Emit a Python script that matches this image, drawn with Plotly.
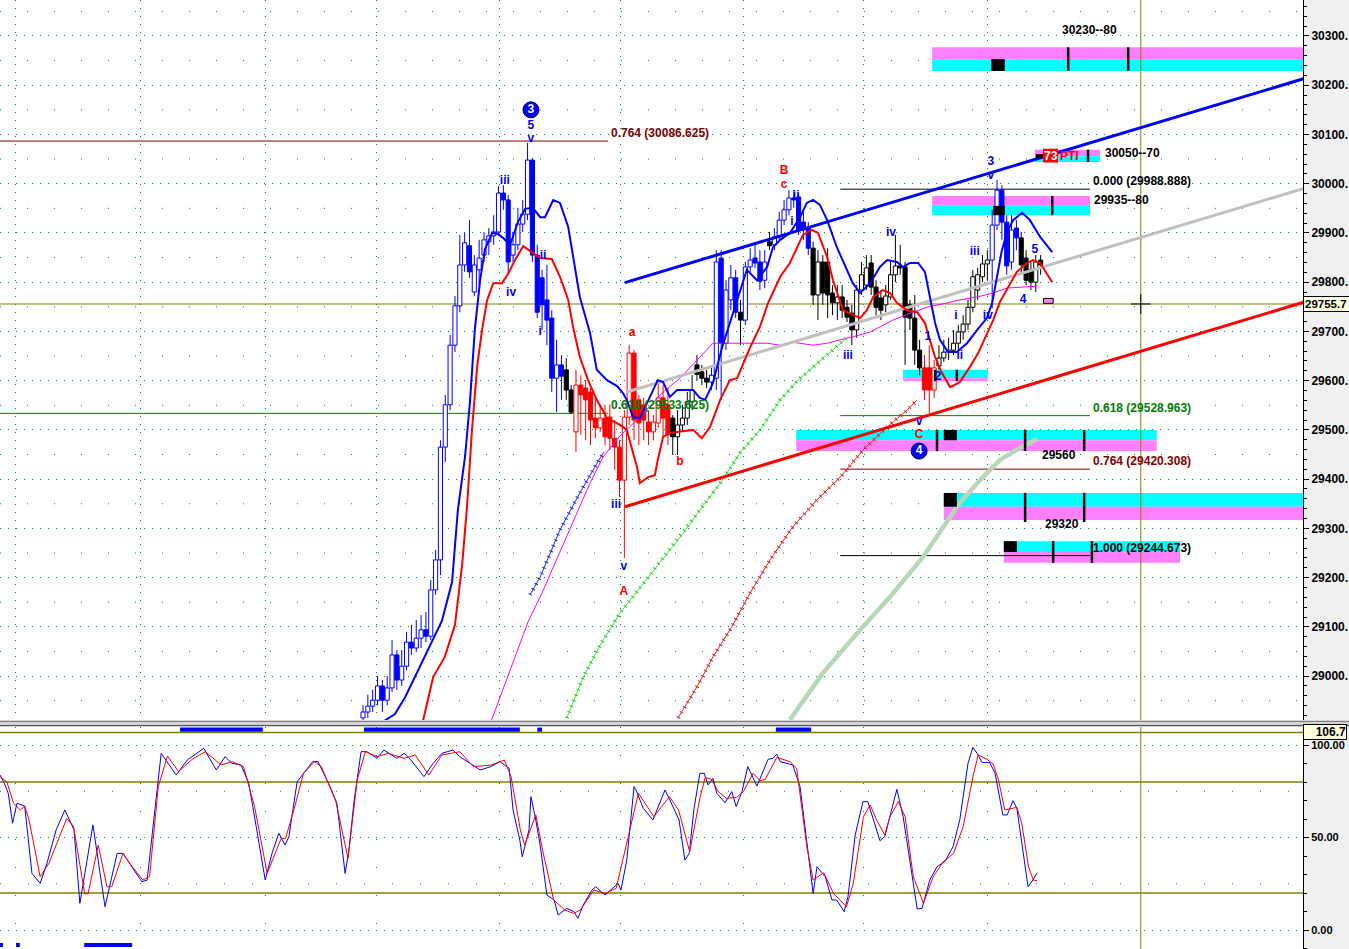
import plotly.graph_objects as go

FONT = "Liberation Sans"
BLUE, RED, BLACK = "#0000ff", "#ff0000", "#000000"
GRID = "#008080"
OLIVE = "#808000"

# ---------------- candles (bar index from first_bar) ----------------
first_bar = 75
c_group_runs = [("b", 42), ("k", 2), ("r", 20), ("k", 8), ("b", 6), ("k", 1), ("b", 5),
                ("k", 1), ("b", 8), ("k", 23), ("r", 3), ("k", 11), ("b", 6), ("k", 5)]
c_open = [28915, 28927, 28939, 28951, 28980, 28951, 28976, 29043, 28992, 29020,
          29069, 29057, 29077, 29094, 29081, 29175, 29236, 29465, 29551, 29672,
          29752, 29835, 29874, 29780, 29825, 29855, 29882, 29894, 29902, 29981,
          29967, 29855, 29876, 29918, 29938, 30048, 29855, 29809, 29764, 29727,
          29605, 29632,
          29622, 29581,
          29496, 29591, 29585, 29577, 29524, 29504, 29524, 29526, 29483, 29465,
          29398, 29526, 29656, 29561, 29551, 29516, 29496, 29514, 29565, 29551,
          29524, 29486, 29510, 29524, 29557, 29632, 29618, 29605,
          29597, 29605, 29849, 29676, 29764, 29809,
          29739,
          29723, 29831, 29849, 29841, 29804,
          29882,
          29876, 29892, 29926, 29947, 29971, 29973, 29922, 29910,
          29869, 29774, 29841, 29841, 29778, 29758, 29770, 29749, 29737, 29703,
          29784, 29794, 29839, 29790, 29768, 29754, 29770, 29815, 29833, 29831,
          29754, 29727, 29662,
          29626, 29626, 29581,
          29630, 29646, 29658, 29662, 29676, 29699, 29715, 29749, 29784, 29811, 29837,
          29845, 29916, 29987, 29922, 29841, 29910,
          29890, 29849, 29825, 29800, 29845]
c_high = [28941, 28962, 28972, 29000, 28992, 29000, 29073, 29053, 29053, 29090,
          29104, 29114, 29124, 29130, 29195, 29256, 29479, 29571, 29693, 29772,
          29896, 29900, 29926, 29855, 29886, 29902, 29910, 29936, 29995, 29997,
          29977, 29902, 29951, 29967, 30083, 30052, 29876, 29825, 29835, 29743,
          29683, 29652,
          29646, 29591,
          29622, 29611, 29601, 29585, 29571, 29551, 29551, 29551, 29520, 29479,
          29540, 29672, 29662, 29571, 29565, 29540, 29530, 29601, 29591, 29585,
          29530, 29540, 29551, 29577, 29611, 29652, 29632, 29622,
          29626, 29865, 29865, 29804, 29835, 29825,
          29764,
          29841, 29869, 29876, 29865, 29865,
          29902,
          29910, 29943, 29967, 29987, 29987, 29981, 29943, 29922,
          29882, 29865, 29855, 29869, 29794, 29794, 29794, 29764, 29754, 29794,
          29841, 29855, 29855, 29804, 29784, 29794, 29845, 29896, 29876, 29841,
          29764, 29774, 29683,
          29652, 29672, 29642,
          29672, 29683, 29687, 29703, 29713, 29733, 29764, 29825, 29829, 29855, 29865,
          29947, 30008, 29997, 29936, 29936, 29926,
          29902, 29865, 29845, 29855, 29855]
c_low = [28907, 28915, 28927, 28941, 28927, 28941, 28968, 28972, 28980, 29012,
         29043, 29049, 29057, 29069, 29073, 29165, 29205, 29435, 29540, 29658,
         29739, 29821, 29809, 29772, 29794, 29841, 29855, 29876, 29894, 29947,
         29815, 29841, 29865, 29902, 29926, 29841, 29727, 29703, 29672, 29577,
         29536, 29561,
         29561, 29532,
         29455, 29490, 29479, 29469, 29483, 29496, 29469, 29459, 29419, 29364,
         29240, 29510, 29479, 29469, 29479, 29469, 29479, 29504, 29486, 29469,
         29449, 29449, 29496, 29510, 29540, 29601, 29591, 29585,
         29581, 29581, 29561, 29662, 29743, 29727,
         29672,
         29713, 29821, 29829, 29784, 29788,
         29865,
         29865, 29886, 29916, 29936, 29951, 29896, 29886, 29855,
         29754, 29723, 29754, 29727, 29733, 29723, 29727, 29719, 29672, 29687,
         29774, 29784, 29774, 29733, 29723, 29739, 29764, 29800, 29815, 29632,
         29703, 29632, 29611,
         29561, 29534, 29565,
         29622, 29638, 29642, 29652, 29662, 29683, 29703, 29739, 29764, 29800, 29804,
         29747, 29906, 29886, 29815, 29825, 29865,
         29815, 29794, 29784, 29780, 29815]
c_close = [28927, 28939, 28951, 28980, 28951, 28976, 29043, 28992, 29020, 29069,
           29057, 29077, 29094, 29081, 29175, 29236, 29465, 29551, 29672, 29752,
           29835, 29880, 29821, 29835, 29849, 29886, 29894, 29902, 29981, 29967,
           29841, 29876, 29918, 29938, 30048, 29855, 29739, 29754, 29723, 29605,
           29632, 29609,
           29581, 29536,
           29591, 29571, 29561, 29520, 29504, 29524, 29486, 29483, 29465, 29398,
           29526, 29656, 29520, 29514, 29520, 29496, 29516, 29565, 29524, 29490,
           29486, 29510, 29524, 29557, 29581, 29613, 29605, 29597,
           29611, 29841, 29676, 29784, 29809, 29739,
           29723,
           29831, 29845, 29839, 29802, 29841,
           29874,
           29892, 29926, 29947, 29971, 29967, 29906, 29910, 29869,
           29774, 29841, 29778, 29774, 29758, 29770, 29743, 29729, 29703, 29784,
           29815, 29829, 29790, 29749, 29743, 29772, 29815, 29833, 29829, 29729,
           29727, 29662, 29626,
           29581, 29581, 29626,
           29646, 29658, 29662, 29676, 29699, 29715, 29749, 29811, 29815, 29837, 29845,
           29916, 29987, 29922, 29833, 29906, 29890,
           29835, 29804, 29800, 29841, 29835]

# ---------------- overlay lines (bar index, price) ----------------
ma_blue_x = [76.4, 81.6, 83.7, 87.8, 91.3, 93.4, 94.6, 96.1, 97.1, 98.1, 99.2, 100.2, 101.7, 102.9, 103.9,
             105.4, 107.0, 108.5, 110.1, 111.6, 112.6, 114.3, 115.7, 117.4, 118.4, 119.8, 121.9, 123.3,
             125.4, 127.5, 128.7, 129.5, 130.8, 132.2, 133.7, 135.9, 137.0, 138.4, 139.9, 143.2, 144.6,
             145.7, 147.3, 149.2, 150.8, 152.5, 154.3, 156.4, 158.5, 159.7, 161.2, 163.2, 165.3, 166.7,
             168.0, 169.4, 170.9, 172.9, 175.0, 176.2, 177.7, 179.8, 181.8, 183.3, 185.3, 186.6, 188.0,
             189.7, 191.1, 192.1, 193.2, 194.2, 195.9, 197.7, 199.8, 201.9, 203.9, 205.0, 206.0, 207.0,
             208.1, 209.3, 211.2, 212.8, 214.9, 217.4]
ma_blue_y = [28890, 28923, 28957, 29039, 29112, 29191, 29337, 29447, 29557, 29703, 29804, 29867, 29900,
             29898, 29890, 29876, 29922, 29949, 29951, 29932, 29932, 29967, 29961, 29912, 29851, 29770,
             29697, 29622, 29601, 29589, 29575, 29561, 29526, 29524, 29555, 29601, 29597, 29567, 29581,
             29581, 29565, 29561, 29595, 29668, 29717, 29770, 29825, 29804, 29831, 29871, 29886, 29900,
             29932, 29961, 29967, 29957, 29926, 29871, 29825, 29798, 29778, 29798, 29831, 29845, 29841,
             29831, 29839, 29839, 29821, 29770, 29717, 29683, 29658, 29658, 29676, 29703, 29727, 29758,
             29811, 29865, 29902, 29926, 29941, 29926, 29892, 29861]
ma_red_x = [87.2, 89.5, 91.9, 94.0, 95.5, 96.5, 97.5, 98.6, 99.6, 100.6, 101.9, 103.7, 105.0, 106.4, 108.1,
            109.5, 111.6, 114.0, 115.7, 117.4, 118.4, 119.8, 121.5, 123.3, 125.4, 128.1, 129.5, 130.8,
            131.6, 132.2, 133.9, 135.3, 135.9, 137.0, 138.4, 143.2, 145.0, 146.7, 148.8, 150.8, 152.3,
            155.0, 157.0, 158.7, 161.2, 163.2, 164.7, 165.9, 167.8, 169.0, 170.9, 172.1, 174.2, 175.6,
            177.7, 179.1, 180.4, 182.4, 183.9, 185.3, 187.4, 189.5, 191.1, 192.1, 193.2, 194.6, 196.3,
            198.3, 200.4, 202.1, 203.9, 205.2, 206.6, 208.3, 210.1, 212.2, 213.4, 214.9, 217.4]
ma_red_y = [28901, 28998, 29039, 29104, 29228, 29345, 29498, 29630, 29703, 29762, 29798, 29798, 29817,
            29845, 29873, 29863, 29849, 29847, 29811, 29764, 29709, 29648, 29601, 29561, 29524, 29510,
            29500, 29453, 29425, 29392, 29404, 29408, 29439, 29486, 29494, 29500, 29483, 29506, 29561,
            29601, 29605, 29668, 29709, 29758, 29811, 29839, 29871, 29896, 29906, 29900, 29851, 29804,
            29743, 29737, 29727, 29743, 29770, 29784, 29778, 29758, 29743, 29739, 29717, 29683, 29648,
            29616, 29587, 29597, 29628, 29656, 29697, 29723, 29760, 29790, 29821, 29839, 29845, 29839, 29800]
ma_mag_x = [101.2, 104.3, 106.4, 109.1, 112.0, 114.7, 118.4, 121.9, 124.6, 128.1, 131.6, 137.0, 140.5,
            144.0, 147.3, 150.2, 158.5, 161.2, 163.8, 168.0, 170.9, 173.6, 176.2, 179.8, 181.8, 184.5,
            188.6, 191.5, 195.7, 198.3, 201.9, 205.2, 208.1, 210.7, 214.3]
ma_mag_y = [28901, 28982, 29037, 29110, 29169, 29230, 29313, 29392, 29445, 29488, 29520, 29577, 29605,
            29642, 29676, 29676, 29676, 29672, 29678, 29672, 29676, 29683, 29689, 29699, 29709, 29723,
            29739, 29749, 29758, 29764, 29770, 29778, 29788, 29790, 29792]
ma_green_x = [117.1, 120.5, 124.0, 128.1, 132.2, 136.4, 140.5, 144.6, 148.8, 152.9, 157.0, 161.2, 164.9,
              169.4, 174.2, 175.2]
ma_green_y = [28915, 28998, 29063, 29128, 29179, 29232, 29282, 29337, 29392, 29453, 29500, 29561, 29601,
              29640, 29679, 29689]
ma_dred_x = [140.1, 144.0, 147.3, 151.2, 155.0, 159.1, 163.8, 168.8, 173.6, 178.3, 183.3, 187.4, 189.5]
ma_dred_y = [28915, 28978, 29039, 29100, 29169, 29236, 29303, 29358, 29404, 29459, 29506, 29540, 29561]
ma_bx_x = [109.5, 111.6, 115.7, 119.8, 124.0, 124.8]
ma_bx_y = [29165, 29201, 29297, 29372, 29443, 29455]
ma_pale_x = [163.2, 170.0, 177.1, 183.9, 190.7, 194.2, 195.7, 198.3, 202.5, 206.6, 210.7, 214.3]
ma_pale_y = [28911, 29006, 29087, 29161, 29242, 29293, 29317, 29352, 29398, 29439, 29463, 29482]

trend_x = [129.1, 269.6]
trend_blue_y = [29799, 30214]
trend_red_y = [29344, 29760]
trend_gray_x = [129.5, 269.6]
trend_gray_y = [29577, 29991]

# ---------------- fib levels ----------------
fib_ratio = ["0.764", "0.618", "0.000", "0.618", "0.764", "1.000"]
fib_level = [30086.625, 29533.625, 29988.888, 29528.963, 29420.308, 29244.673]
fib_x0 = [0, 0, 173.6, 173.6, 173.6, 173.6]
fib_x1 = [125.6, 125.6, 225.2, 225.2, 225.2, 225.2]

# ---------------- zones ----------------
zone_x0 = [192.6, 213.8, 192.6, 186.6, 164.5, 195.0, 207.4]
zone_x1 = [269.3, 227.3, 225.2, 204.1, 239.0, 269.3, 243.8]
zone_lo = [30229, 30044, 29936, 29599, 29457, 29317, 29230]
zone_mid = [30253, 30056, 29955, 29605, 29479, 29344, 29252]
zone_hi = [30277, 30069, 29975, 29622, 29500, 29372, 29274]
zone_above = [True, True, True, False, False, False, False]
zone_label = ["30230--80", "30050--70", "29935--80", "", "29560", "29320", ""]
zone_label_x = [219.0, 227.9, 225.6, None, 214.9, 215.5, None]
zone_label_y = [30312, 30062, 29967, None, 29449, 29309, None]
sq_x0 = [204.8, 214.0, 205.2, 195.0, 195.0, 207.4]
sq_x1 = [207.6, 215.5, 207.6, 197.7, 197.7, 210.1]
sq_lo = [30229, 30052, 29936, 29479, 29344, 29252]
sq_hi = [30253, 30060, 29955, 29500, 29372, 29274]
mk_x = [220.7, 233.1, 224.8, 217.4, 193.6, 211.8, 224.0, 211.8, 224.0, 217.6, 225.6, 193.2, 197.7]
mk_lo = [30229, 30229, 30044, 29936, 29457, 29457, 29457, 29313, 29313, 29230, 29230, 29599, 29599]
mk_hi = [30277, 30277, 30069, 29975, 29500, 29500, 29500, 29372, 29372, 29274, 29274, 29622, 29622]

last_price = 29755.7
cursor_bar = 235.7
day_breaks = [3.3, 29.1, 54.8, 77.7, 103.3, 128.1, 153.7, 178.5, 204.1]

# ---------------- wave labels ----------------
wl_text = ["5", "v", "iii", "iv", "ii", "i", "a", "iii", "v", "A", "b", "B", "c", "ii", "i", "iv", "iii",
           "1", "2", "i", "ii", "iii", "iv", "3", "v", "5", "4", "v", "C"]
wl_x = [109.7, 109.7, 104.3, 105.6, 112.2, 111.6, 130.6, 127.3, 128.9, 128.9, 140.5, 162.0, 162.0, 164.5,
        163.6, 184.1, 175.2, 191.7, 193.8, 197.5, 198.3, 201.4, 204.1, 204.7, 204.7, 213.8, 211.4, 189.9, 189.9]
wl_y = [30117, 30090, 30006, 29778, 29853, 29699, 29697, 29348, 29222, 29171, 29435, 30026, 29997, 29975,
        29922, 29900, 29650, 29689, 29607, 29731, 29650, 29861, 29731, 30044, 30016, 29865, 29764, 29516, 29490]
wl_color = ["b", "b", "b", "b", "b", "b", "r", "b", "b", "r", "r", "r", "r", "b", "b", "b", "b",
            "b", "b", "b", "b", "b", "b", "b", "b", "b", "b", "b", "r"]
circ_text = ["3", "4"]
circ_x = [109.7, 189.9]
circ_y = [30150, 29457]

# ---------------- stochastic ----------------
stoch_k_x = [0, 0.9, 1.7, 2.6, 3.5, 5.1, 6.6, 8.3, 9.7, 11.6,
             13.4, 15.3, 16.5, 19.2, 21.7, 24.2, 25.4, 27.3, 29.3, 30.4,
             33.3, 36.4, 38.7, 42.1, 44.7, 46.5, 47.9, 49.8, 51.4, 52.7,
             54.8, 56.2, 57.6, 58.9, 59.7, 60.3, 61.4, 64.6, 65.7, 68.2,
             69.6, 71.3, 72.1, 73.1, 74.6, 75.8, 77.9, 79.3, 82.0, 83.5,
             84.9, 87.6, 89.5, 91.3, 93.6, 95.0, 97.7, 99.2, 101.4, 103.3,
             105.2, 106.0, 107.4, 107.9, 109.3, 109.7, 110.7, 111.6, 113.0, 114.5,
             115.3, 117.1, 118.6, 119.4, 120.5, 122.3, 123.1, 125.0, 127.7, 128.3,
             129.5, 131.0, 131.4, 132.9, 134.9, 137.4, 138.4, 140.3, 141.5, 142.4,
             143.4, 144.6, 145.5, 146.3, 147.3, 148.1, 149.8, 151.2, 152.1, 153.3,
             154.5, 156.4, 158.7, 159.7, 160.5, 161.2, 163.8, 165.3, 168.0, 168.8,
             170.5, 171.9, 172.9, 174.4, 175.2, 176.7, 178.3, 179.3, 181.8, 182.8,
             185.3, 186.6, 189.5, 190.5, 192.1, 193.6, 195.2, 196.9, 198.3, 200.0,
             201.0, 201.9, 202.9, 204.5, 205.6, 207.2, 208.1, 209.3, 210.1, 211.4,
             212.4, 213.4, 214.3]
stoch_k = [83.8, 79.3, 73.9, 57.7, 68.5, 67.0, 30.6, 25.2, 36.0, 54.1,
           64.9, 54.1, 14.4, 56.8, 12.6, 41.4, 41.4, 34.2, 26.1, 27.0,
           95.5, 83.8, 91.9, 98.2, 86.5, 93.7, 90.1, 89.2, 79.3, 59.5,
           27.0, 41.4, 52.3, 45.9, 50.5, 61.3, 80.2, 91.0, 91.0, 77.5,
           68.5, 30.6, 43.2, 68.5, 96.4, 96.4, 92.8, 97.3, 92.8, 95.5,
           91.9, 82.9, 90.1, 95.5, 97.3, 93.7, 89.2, 86.5, 88.3, 91.0,
           87.4, 64.9, 48.6, 39.6, 54.1, 72.1, 59.5, 45.9, 18.9, 16.2,
           8.1, 11.7, 9.9, 6.3, 13.5, 21.6, 23.4, 18.9, 25.2, 21.6,
           37.8, 77.5, 75.7, 65.8, 59.5, 75.7, 70.3, 59.5, 37.8, 41.4,
           65.8, 84.7, 84.7, 78.4, 82.0, 73.9, 68.8, 74.8, 66.7, 74.8,
           88.3, 77.8, 92.3, 92.8, 95.0, 91.0, 89.2, 77.5, 19.8, 34.2,
           28.8, 16.2, 16.2, 9.9, 18.0, 51.4, 69.4, 69.4, 48.3, 50.5,
           76.0, 61.3, 11.4, 11.7, 27.0, 34.2, 36.9, 45.0, 59.5, 90.1,
           98.7, 95.5, 90.5, 90.5, 84.7, 62.2, 62.2, 69.9, 65.8, 41.4,
           23.4, 27.0, 31.0]
stoch_d_x = [0, 1.4, 2.8, 4.2, 5.1, 6.0, 8.3, 10.1, 13.8, 15.2,
             17.5, 18.2, 20.3, 22.1, 23.1, 25.4, 26.8, 29.5, 30.9, 32.7,
             34.6, 36.9, 39.7, 42.4, 45.7, 48.0, 50.3, 52.6, 55.2, 58.1,
             59.0, 60.9, 62.7, 65.0, 66.4, 69.4, 71.9, 73.8, 75.5, 77.9,
             80.2, 83.5, 85.8, 88.6, 91.3, 95.0, 97.8, 101.5, 104.2, 105.6,
             107.5, 108.4, 110.7, 112.1, 114.4, 116.7, 118.5, 119.9, 122.7, 125.0,
             127.3, 129.1, 131.9, 135.1, 138.3, 140.2, 142.5, 144.6, 145.7, 147.0,
             148.4, 150.1, 152.2, 153.6, 155.6, 157.0, 158.1, 160.5, 163.2, 164.6,
             166.7, 168.0, 170.2, 172.2, 174.9, 176.3, 178.4, 179.8, 181.1, 182.8,
             183.9, 185.6, 187.0, 188.7, 190.8, 192.8, 194.9, 197.0, 199.0, 201.1,
             202.1, 203.9, 205.2, 206.3, 207.6, 210.1, 211.1, 212.5, 213.5, 214.3]
stoch_d = [82.9, 80.2, 68.5, 64.9, 67.0, 59.5, 28.8, 36.0, 60.4, 55.9,
           19.6, 19.6, 45.9, 23.4, 23.4, 41.4, 36.0, 27.0, 28.8, 77.5,
           94.0, 85.6, 92.3, 96.4, 89.2, 91.0, 88.3, 66.7, 30.6, 49.5,
           49.5, 66.7, 84.7, 91.0, 88.3, 69.4, 38.7, 81.1, 96.4, 93.7,
           95.5, 92.8, 94.6, 83.8, 94.6, 96.4, 88.3, 89.2, 91.9, 82.9,
           54.1, 45.9, 62.2, 43.2, 16.2, 10.8, 9.0, 10.8, 21.6, 19.8,
           22.5, 43.2, 73.9, 61.3, 72.1, 64.9, 42.3, 71.2, 82.5, 81.4,
           74.8, 71.2, 71.7, 74.8, 84.7, 80.7, 81.4, 93.3, 91.0, 87.4,
           45.0, 27.0, 31.0, 19.8, 12.6, 25.2, 61.3, 67.6, 59.5, 51.4,
           61.3, 69.4, 61.3, 28.8, 14.4, 28.8, 36.9, 41.4, 55.9, 83.8,
           94.6, 92.3, 89.7, 81.1, 64.9, 66.3, 57.7, 34.2, 27.0, 26.5]
stoch_levels = [20, 80, 106.7]
sig_top_x0 = [37.2, 75.2, 111.0, 160.3]
sig_top_x1 = [54.3, 107.4, 112.0, 167.6]
sig_bot_x0 = [0.0, 3.3, 17.4]
sig_bot_x1 = [0.6, 4.1, 27.3]

# ---------------- layout constants ----------------
W, H = 1349, 949
PLOT_W = 1303
X_MAX = PLOT_W / 4.84
MAIN_BOTTOM = (H - 720) / H
STOCH_TOP = (H - 727) / H
Y_RANGE = [28910.8, 30373.1]
Y2_RANGE = [-10.27, 109.73]

colmap = {"b": BLUE, "r": RED, "k": BLACK}
groups = "".join(g * n for g, n in c_group_runs)
bars_x = [first_bar + i for i in range(len(c_open))]

fig = go.Figure()

# candle bodies
fill = [("#ffffff" if c >= o else colmap[g]) for o, c, g in zip(c_open, c_close, groups)]
fig.add_trace(go.Bar(
    x=bars_x, y=[max(abs(c - o), 2) for o, c in zip(c_open, c_close)],
    base=[min(o, c) for o, c in zip(c_open, c_close)], width=0.85,
    marker=dict(color=fill, line=dict(color=[colmap[g] for g in groups], width=1)),
    hoverinfo="skip", xaxis="x", yaxis="y"))

# wicks
for g in "brk":
    xs, ys = [], []
    for b, o, h, l, c, gg in zip(bars_x, c_open, c_high, c_low, c_close, groups):
        if gg != g:
            continue
        xs += [b, b, None, b, b, None]
        ys += [h, max(o, c), None, min(o, c), l, None]
    fig.add_trace(go.Scatter(x=xs, y=ys, mode="lines", line=dict(color=colmap[g], width=1),
                             hoverinfo="skip", connectgaps=False))


def line(x, y, color, width, dash="solid"):
    fig.add_trace(go.Scatter(x=x, y=y, mode="lines", line=dict(color=color, width=width, dash=dash),
                             hoverinfo="skip"))


def crossed(x, y, color, tick_color):
    # thin line with short perpendicular ticks along it (stroke dashes on a wide line)
    line(x, y, color, 1)
    line(x, y, tick_color, 4, dash="1px,5px")


line(ma_mag_x, ma_mag_y, "#ff00ff", 1)
crossed(ma_green_x, ma_green_y, "#33ee33", "#33bb33")
crossed(ma_dred_x, ma_dred_y, "#dd2222", "#cc2222")
crossed(ma_bx_x, ma_bx_y, "#2222ff", "#2222dd")
line(ma_pale_x, ma_pale_y, "#b8d6b8", 4.5)
line(trend_gray_x, trend_gray_y, "#c0c0c0", 3)
line(ma_red_x, ma_red_y, RED, 2)
line(ma_blue_x, ma_blue_y, BLUE, 2)
line(trend_x, trend_blue_y, BLUE, 3)
line(trend_x, trend_red_y, RED, 3)

# wave labels
fig.add_trace(go.Scatter(x=wl_x, y=wl_y, mode="text", text=wl_text,
                         textfont=dict(family=FONT, size=12, color=[colmap[c] for c in wl_color], weight="bold"),
                         hoverinfo="skip"))
fig.add_trace(go.Scatter(x=circ_x, y=circ_y, mode="markers+text", text=circ_text, textposition="middle center",
                         marker=dict(size=16, color=BLUE, line=dict(color="#000060", width=1)),
                         textfont=dict(family=FONT, size=12, color="white", weight="bold"), hoverinfo="skip"))
# cursor
fig.add_trace(go.Scatter(x=[cursor_bar], y=[last_price], mode="markers",
                         marker=dict(symbol="cross-thin", size=14, line=dict(width=1, color=BLACK)),
                         hoverinfo="skip"))

# stochastic
fig.add_trace(go.Scatter(x=stoch_k_x, y=stoch_k, mode="lines", line=dict(color=BLUE, width=1),
                         xaxis="x2", yaxis="y2", hoverinfo="skip"))
fig.add_trace(go.Scatter(x=stoch_d_x, y=stoch_d, mode="lines", line=dict(color=RED, width=1),
                         xaxis="x2", yaxis="y2", hoverinfo="skip"))

shapes = []
annotations = []

# sparse dotted rows
for v in range(int(Y_RANGE[0] // 100) * 100 + 50, int(Y_RANGE[1]) + 1, 100):
    if Y_RANGE[0] < v < Y_RANGE[1]:
        shapes.append(dict(type="line", xref="x", x0=0, x1=X_MAX, yref="y", y0=v, y1=v,
                           line=dict(color=GRID, width=1, dash="1px,26px"), layer="below"))
for v in (25, 75):
    shapes.append(dict(type="line", xref="x2", x0=0, x1=X_MAX, yref="y2", y0=v, y1=v,
                       line=dict(color=GRID, width=1, dash="1px,27px"), layer="below"))

# zones
for x0, x1, lo, mid, hi, above in zip(zone_x0, zone_x1, zone_lo, zone_mid, zone_hi, zone_above):
    top_c, bot_c = ("#ff80ff", "#00ffff") if above else ("#00ffff", "#ff80ff")
    shapes.append(dict(type="rect", xref="x", yref="y", x0=x0, x1=x1, y0=mid, y1=hi,
                       fillcolor=top_c, line=dict(width=0), layer="between"))
    shapes.append(dict(type="rect", xref="x", yref="y", x0=x0, x1=x1, y0=lo, y1=mid,
                       fillcolor=bot_c, line=dict(width=0), layer="between"))
for x0, x1, lo, hi in zip(sq_x0, sq_x1, sq_lo, sq_hi):
    shapes.append(dict(type="rect", xref="x", yref="y", x0=x0, x1=x1, y0=lo, y1=hi,
                       fillcolor=BLACK, line=dict(width=0), layer="above"))
for x, lo, hi in zip(mk_x, mk_lo, mk_hi):
    shapes.append(dict(type="line", xref="x", yref="y", x0=x, x1=x, y0=lo, y1=hi,
                       line=dict(color=BLACK, width=2.5), layer="above"))
for t, x, y in zip(zone_label, zone_label_x, zone_label_y):
    if t:
        annotations.append(dict(text=t, x=x, y=y, xref="x", yref="y", xanchor="left", yanchor="middle",
                                showarrow=False, font=dict(family=FONT, size=12, color=BLACK, weight="bold")))
# 73 PTI tag
shapes.append(dict(type="rect", xref="x", yref="y", x0=215.5, x1=218.6, y0=30043, y1=30071,
                   fillcolor=RED, line=dict(width=0), layer="above"))
annotations.append(dict(text="73", x=217.05, y=30057, xref="x", yref="y", showarrow=False,
                        font=dict(family=FONT, size=12, color="white", weight="bold")))
annotations.append(dict(text="PTI", x=218.6, y=30057, xref="x", yref="y", xanchor="left", showarrow=False,
                        font=dict(family=FONT, size=12, color=RED, weight="bold")))
shapes.append(dict(type="rect", xref="x", yref="y", x0=215.6, x1=217.6, y0=29757, y1=29767,
                   fillcolor="#ff80ff", line=dict(color=BLACK, width=1), layer="above"))

# fib lines
fib_col = {"0.764": "#800000", "0.618": "#008000", "0.000": BLACK, "1.000": BLACK}
for r, lv, x0, x1 in zip(fib_ratio, fib_level, fib_x0, fib_x1):
    shapes.append(dict(type="line", xref="x", yref="y", x0=x0, x1=x1, y0=lv, y1=lv,
                       line=dict(color=fib_col[r], width=1), layer="between"))
    annotations.append(dict(text=f"{r} ({lv:.3f})", x=x1, y=lv, xref="x", yref="y", xanchor="left",
                            yanchor="bottom", xshift=1, yshift=-1, showarrow=False,
                            font=dict(family=FONT, size=12, color=fib_col[r], weight="bold")))

# olive price line + cursor vertical
shapes.append(dict(type="line", xref="x", x0=0, x1=X_MAX, yref="y", y0=last_price, y1=last_price,
                   line=dict(color=OLIVE, width=1), layer="between"))
shapes.append(dict(type="line", xref="x", x0=cursor_bar, x1=cursor_bar, yref="y", y0=Y_RANGE[0], y1=Y_RANGE[1],
                   line=dict(color=OLIVE, width=1), layer="between"))
shapes.append(dict(type="line", xref="x2", x0=cursor_bar, x1=cursor_bar, yref="y2", y0=Y2_RANGE[0],
                   y1=Y2_RANGE[1], line=dict(color=OLIVE, width=1), layer="between"))
for lv in stoch_levels:
    shapes.append(dict(type="line", xref="x2", x0=0, x1=X_MAX, yref="y2", y0=lv, y1=lv,
                       line=dict(color=OLIVE, width=1.5), layer="between"))
for x0, x1 in zip(sig_top_x0, sig_top_x1):
    shapes.append(dict(type="rect", xref="x2", yref="y2", x0=x0, x1=x1, y0=107.2, y1=109.4,
                       fillcolor=BLUE, line=dict(width=0)))
for x0, x1 in zip(sig_bot_x0, sig_bot_x1):
    shapes.append(dict(type="rect", xref="x2", yref="y2", x0=x0, x1=x1, y0=-9.2, y1=-7.0,
                       fillcolor=BLUE, line=dict(width=0)))

# panel separator
sep_right = W / PLOT_W
shapes.append(dict(type="rect", xref="paper", yref="paper", x0=0, x1=sep_right, y0=STOCH_TOP, y1=MAIN_BOTTOM,
                   fillcolor="#d4d4d4", line=dict(width=0), layer="above"))
for yy, cc in (((H - 721.5) / H, "#808080"), ((H - 725.5) / H, "#505050")):
    shapes.append(dict(type="line", xref="paper", yref="paper", x0=0, x1=sep_right, y0=yy, y1=yy,
                       line=dict(color=cc, width=1), layer="above"))

# axis value boxes
annotations.append(dict(text="29755.7", xref="paper", x=1, xanchor="left", yref="y", y=last_price,
                        yanchor="middle", showarrow=False, bgcolor="#ffffe0", bordercolor=BLACK, borderwidth=1,
                        borderpad=1, width=44, align="left",
                        font=dict(family=FONT, size=11.5, color=BLACK, weight="bold")))
annotations.append(dict(text="106.7", xref="paper", x=1, xanchor="left", yref="y2", y=106.9,
                        yanchor="middle", showarrow=False, bgcolor="#ffffe0", bordercolor=BLACK, borderwidth=1,
                        borderpad=0, width=42, align="right",
                        font=dict(family=FONT, size=12, color=BLACK, weight="bold")))

main_ticks = list(range(29000, 30301, 100))
axis_font = dict(family=FONT, size=12, color=BLACK, weight="bold")
fig.update_layout(
    width=W, height=H, margin=dict(l=0, r=W - PLOT_W, t=0, b=0, autoexpand=False),
    paper_bgcolor="#f0f0f0", plot_bgcolor="#ffffff", showlegend=False, hovermode=False,
    barmode="overlay", shapes=shapes, annotations=annotations,
    xaxis=dict(domain=[0, 1], range=[0, X_MAX], tickmode="array", tickvals=day_breaks, showticklabels=False,
               ticks="", showgrid=True, gridcolor=GRID, gridwidth=1, griddash="1px,7px", zeroline=False,
               showline=False, anchor="y", fixedrange=True, automargin=False),
    xaxis2=dict(domain=[0, 1], range=[0, X_MAX], tickmode="array", tickvals=day_breaks, showticklabels=False,
                ticks="", showgrid=True, gridcolor=GRID, gridwidth=1, griddash="1px,27px", zeroline=False,
                showline=False, anchor="y2", fixedrange=True, automargin=False),
    yaxis=dict(domain=[MAIN_BOTTOM, 1], range=Y_RANGE, side="right", anchor="x", tickmode="array",
               tickvals=main_ticks, ticktext=[f"{v}." for v in main_ticks], ticks="outside", ticklen=5,
               tickcolor=BLACK, showline=True, linecolor=BLACK, linewidth=1, showgrid=True, gridcolor=GRID,
               gridwidth=1, griddash="1px,7px", zeroline=False, tickfont=axis_font, fixedrange=True,
               automargin=False,
               minor=dict(dtick=20, tick0=0, ticks="outside", ticklen=3, tickcolor=BLACK, showgrid=False)),
    yaxis2=dict(domain=[0, STOCH_TOP], range=Y2_RANGE, side="right", anchor="x2", tickmode="array",
                tickvals=[0, 50, 100], ticktext=["0.00", "50.00", "100.00"], ticks="outside", ticklen=5,
                tickcolor=BLACK, showline=True, linecolor=BLACK, linewidth=1, showgrid=True, gridcolor=GRID,
                gridwidth=1, griddash="1px,7px", zeroline=False,
                tickfont=dict(family=FONT, size=11, color=BLACK, weight="bold"), fixedrange=True,
                automargin=False,
                minor=dict(dtick=10, tick0=0, ticks="outside", ticklen=3, tickcolor=BLACK, showgrid=False)),
)

fig.write_html("out.html", config={"displayModeBar": False},
               post_script="document.body.style.margin='0';document.body.style.overflow='hidden';")
